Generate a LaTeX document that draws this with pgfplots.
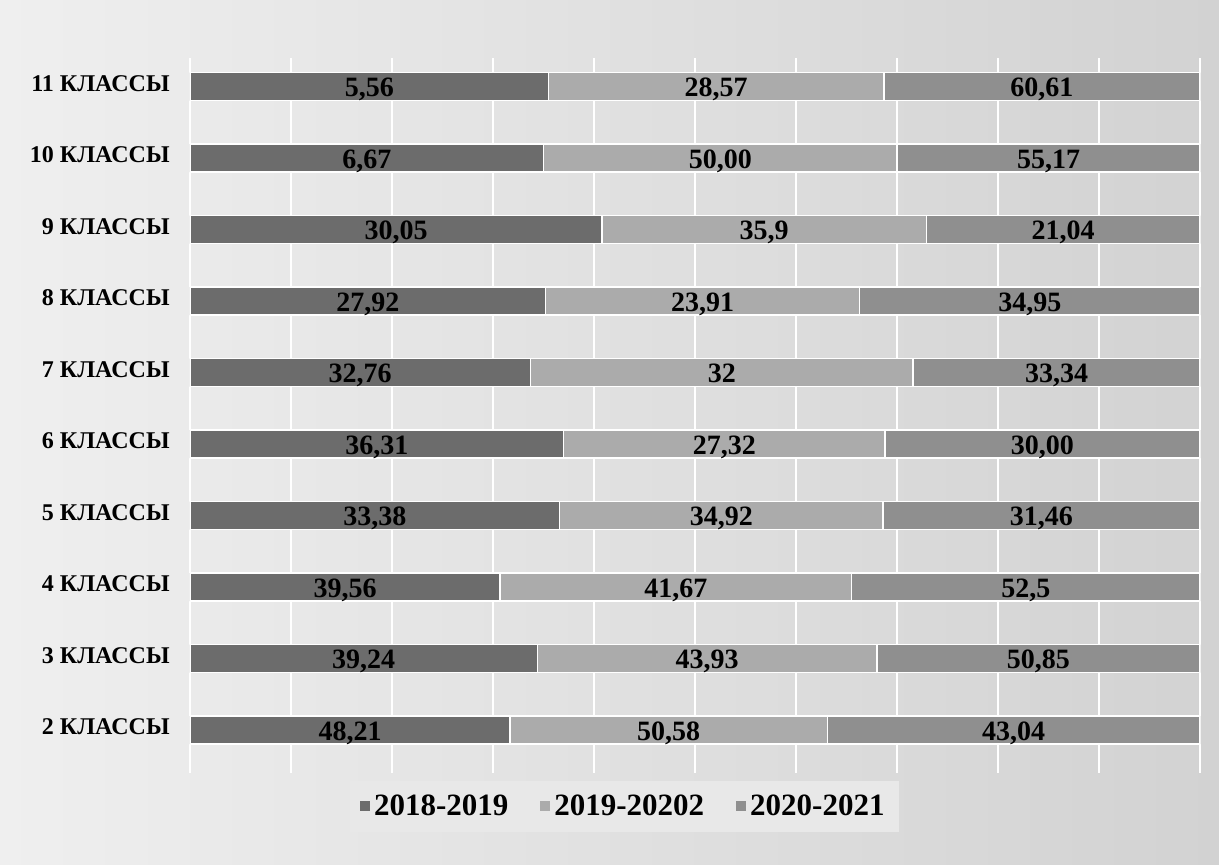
\documentclass[border=0pt]{standalone}
\usepackage{pgfplots}
\pgfplotsset{compat=1.18}
\usepackage{pgfplotstable}
\usepackage{fontspec}
\setmainfont{Liberation Serif}
\usetikzlibrary{backgrounds,calc}

\definecolor{sA}{HTML}{6C6C6C}
\definecolor{sB}{HTML}{ABABAB}
\definecolor{sC}{HTML}{8F8F8F}
\definecolor{bgL}{HTML}{EFEFEF}
\definecolor{bgR}{HTML}{D2D2D2}
\definecolor{legbg}{HTML}{E8E8E8}

% widths = share of the bar (100% stacked), l = printed label
\pgfplotstableread{
y w1   l1    w2   l2    w3   l3
0 31.7 48,21 31.4 50,58 36.9 43,04
1 34.4 39,24 33.6 43,93 32.0 50,85
2 30.7 39,56 34.8 41,67 34.5 52,5
3 36.6 33,38 32.0 34,92 31.4 31,46
4 37.0 36,31 31.8 27,32 31.2 30,00
5 33.7 32,76 37.9 32    28.4 33,34
6 35.2 27,92 31.1 23,91 33.7 34,95
7 40.8 30,05 32.1 35,9  27.1 21,04
8 35.0 6,67  35.0 50,00 30.0 55,17
9 35.5 5,56  33.2 28,57 31.3 60,61
}\data

\begin{document}
\begin{tikzpicture}
\begin{axis}[name=ax,
  xbar stacked, scale only axis,
  width=505pt, height=357.5pt,
  xmin=0, xmax=100, ymin=-0.6, ymax=9.4,
  bar width=14pt,
  axis line style={draw=none},
  major tick length=0pt,
  xtick={0,10,...,100}, xticklabels={},
  xmajorgrids, grid style={white, line width=0.9pt},
  ytick={0,...,9},
  yticklabels={2 КЛАССЫ,3 КЛАССЫ,4 КЛАССЫ,5 КЛАССЫ,6 КЛАССЫ,7 КЛАССЫ,8 КЛАССЫ,9 КЛАССЫ,10 КЛАССЫ,11 КЛАССЫ},
  yticklabel style={font=\bfseries\fontsize{12}{14}\selectfont, inner sep=0pt, xshift=-10pt, yshift=1.5pt},
  point meta=explicit symbolic,
  nodes near coords,
  nodes near coords style={font=\bfseries\fontsize{14}{16}\selectfont, text=black,
    anchor=center, text height=9.5pt, text depth=2.5pt, yshift=-1.5pt},
  legend style={at={(0.43,-0.01)}, anchor=north, legend columns=3, draw=none,
    fill=legbg, font=\bfseries\fontsize{15.5}{18}\selectfont,
    /tikz/every even column/.append style={column sep=14pt},
    inner xsep=5pt, inner ysep=5pt},
  legend image code/.code={\fill[#1,draw=none] (0pt,-2.5pt) rectangle (5pt,2.5pt);},
]
\addplot[fill=sA, draw=white, line width=0.75pt]
  table[x=w1, y=y, meta=l1] {\data};
\addplot[fill=sB, draw=white, line width=0.75pt]
  table[x=w2, y=y, meta=l2] {\data};
\addplot[fill=sC, draw=white, line width=0.75pt]
  table[x=w3, y=y, meta=l3] {\data};
\legend{2018-2019, 2019-20202, 2020-2021}
\end{axis}
\begin{scope}[on background layer]
  \shade[left color=bgL, right color=bgR]
    ($(ax.south west)+(-95pt,-46pt)$) rectangle ($(ax.north east)+(9.5pt,29pt)$);
\end{scope}
\end{tikzpicture}
\end{document}
